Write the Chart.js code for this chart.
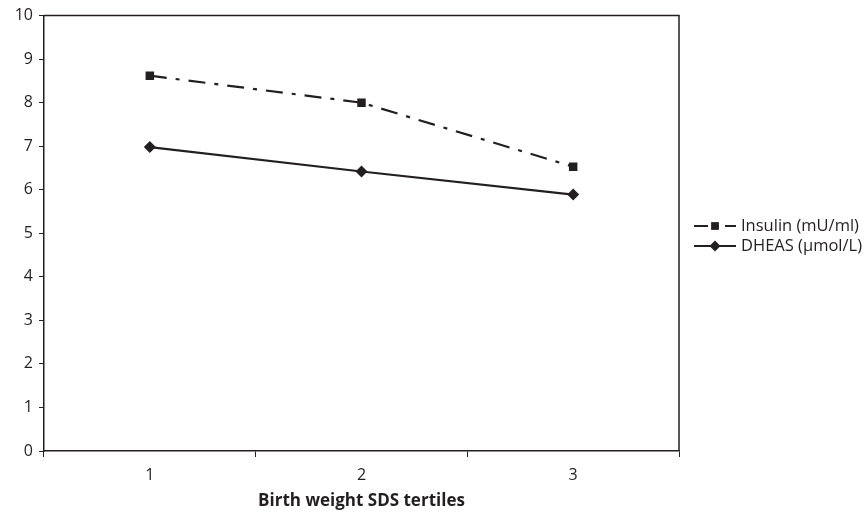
<!DOCTYPE html>
<html>
<head>
<meta charset="utf-8">
<script src="https://cdn.jsdelivr.net/npm/chart.js@4"></script>
<style>
  html, body { margin: 0; padding: 0; background: #fff; }
  #wrap { width: 864px; height: 516px; }
</style>
</head>
<body>
<div id="wrap"><canvas id="chart" width="864" height="516"></canvas></div>
<script>
const tertiles = ["1", "2", "3"];
const insulin = [8.62, 8.0, 6.53];
const dheas = [6.98, 6.42, 5.89];
const yTicks = [0, 1, 2, 3, 4, 5, 6, 7, 8, 9, 10];

const FONT = "'Open Sans', 'Noto Sans', sans-serif";
const INK = "#231f20";

// frame on top + right of plot area
const framePlugin = {
  id: "frame",
  afterDraw(chart) {
    const { ctx, chartArea: a } = chart;
    ctx.save();
    ctx.strokeStyle = INK;
    ctx.lineWidth = 1.5;
    ctx.beginPath();
    ctx.moveTo(a.left, a.top);
    ctx.lineTo(a.right, a.top);
    ctx.lineTo(a.right, a.bottom);
    ctx.stroke();
    ctx.restore();
  }
};

// legend drawn by hand so the dash pattern + marker show together
const legendPlugin = {
  id: "sideLegend",
  afterDraw(chart) {
    const { ctx } = chart;
    const x0 = 694, x1 = 736;
    ctx.save();
    chart.data.datasets.forEach((ds, i) => {
      const y = 226 + i * 20;
      ctx.strokeStyle = ds.borderColor;
      ctx.lineWidth = ds.borderWidth;
      ctx.setLineDash(ds.borderDash ? [14, 6, 5, 6] : []);
      ctx.beginPath();
      ctx.moveTo(x0, y);
      ctx.lineTo(x1, y);
      ctx.stroke();
      ctx.setLineDash([]);
      ctx.fillStyle = INK;
      Chart.helpers.drawPoint(ctx, {
        pointStyle: ds.pointStyle,
        radius: ds.pointRadius - 0.5,
        borderWidth: 0
      }, (x0 + x1) / 2, y);
      ctx.font = "16.5px " + FONT;
      ctx.textBaseline = "middle";
      ctx.fillText(ds.label, x1 + 5, y);
    });
    ctx.restore();
  }
};

new Chart(document.getElementById("chart"), {
  type: "line",
  data: {
    labels: tertiles,
    datasets: [
      {
        label: "Insulin (mU/ml)",
        data: insulin,
        borderColor: INK,
        backgroundColor: INK,
        borderWidth: 2.2,
        borderDash: [17, 9, 4, 9],
        pointStyle: "rect",
        pointRadius: 6,
        pointBorderWidth: 0,
        tension: 0
      },
      {
        label: "DHEAS (\u00b5mol/L)",
        data: dheas,
        borderColor: INK,
        backgroundColor: INK,
        borderWidth: 2.2,
        pointStyle: "rectRot",
        pointRadius: 6,
        pointBorderWidth: 0,
        tension: 0
      }
    ]
  },
  options: {
    responsive: false,
    animation: false,
    layout: { padding: { left: 0, right: 185, top: 15, bottom: 0 } },
    plugins: {
      legend: { display: false },
      tooltip: { enabled: false }
    },
    scales: {
      x: {
        offset: true,
        grid: {
          offset: true,
          drawOnChartArea: false,
          tickLength: 6,
          color: INK,
          lineWidth: 1
        },
        border: { color: INK, width: 1.5 },
        ticks: { color: INK, font: { family: FONT, size: 16 }, padding: 9 },
        title: {
          display: true,
          text: "Birth weight SDS tertiles",
          color: INK,
          font: { family: FONT, size: 17, weight: "bold" },
          padding: { top: 0, bottom: 5 }
        },
        afterFit(scale) { scale.height = 65; }
      },
      y: {
        min: 0,
        max: 10,
        afterBuildTicks(scale) { scale.ticks = yTicks.map(v => ({ value: v })); },
        grid: {
          drawOnChartArea: false,
          tickLength: 5,
          color: INK,
          lineWidth: 1
        },
        border: { color: INK, width: 1.5 },
        ticks: { color: INK, font: { family: FONT, size: 16 }, padding: 6 },
        afterFit(scale) { scale.width = 44; }
      }
    }
  },
  plugins: [framePlugin, legendPlugin]
});
</script>
</body>
</html>
